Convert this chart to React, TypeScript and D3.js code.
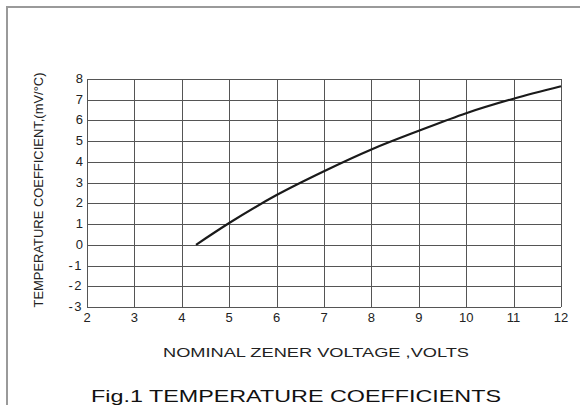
import React, { useEffect, useRef } from "react";
import * as d3 from "d3";

// curve: nominal zener voltage (V) -> temp coefficient (mV/°C)
const voltages = [4.3, 5, 6, 7, 8, 9, 10, 11, 12];
const coefficients = [0, 1.05, 2.4, 3.55, 4.6, 5.5, 6.35, 7.05, 7.65];
const xTicks = [2, 3, 4, 5, 6, 7, 8, 9, 10, 11, 12];
const yTicks = [-3, -2, -1, 0, 1, 2, 3, 4, 5, 6, 7, 8];

const W = 580;
const H = 405;
const FONT = "'Liberation Sans', Arial, sans-serif";

const App: React.FC = () => {
  const svgRef = useRef<SVGSVGElement>(null);

  useEffect(() => {
    const svg = d3.select(svgRef.current);
    svg.selectAll("*").remove();

    const x = d3.scaleLinear().domain([2, 12]).range([87, 561]);
    const y = d3.scaleLinear().domain([-3, 8]).range([307, 79]);

    // outer frame
    svg
      .append("path")
      .attr("d", `M7,${H + 5} V7 H${W + 5}`)
      .attr("fill", "none")
      .attr("stroke", "#9a9a9a")
      .attr("stroke-width", 2);

    const grid = svg.append("g").attr("stroke", "#555").attr("stroke-width", 1);
    grid
      .selectAll("line.v")
      .data(xTicks)
      .join("line")
      .attr("class", "v")
      .attr("x1", (d) => Math.round(x(d)) + 0.5)
      .attr("x2", (d) => Math.round(x(d)) + 0.5)
      .attr("y1", y(8))
      .attr("y2", y(-3));
    grid
      .selectAll("line.h")
      .data(yTicks)
      .join("line")
      .attr("class", "h")
      .attr("y1", (d) => Math.round(y(d)) + 0.5)
      .attr("y2", (d) => Math.round(y(d)) + 0.5)
      .attr("x1", x(2))
      .attr("x2", x(12));

    svg
      .append("g")
      .selectAll("text")
      .data(yTicks)
      .join("text")
      .attr("x", 83)
      .attr("y", (d) => y(d) + 4)
      .attr("text-anchor", "end")
      .attr("font-family", FONT)
      .attr("font-size", 13)
      .attr("fill", "#222")
      .attr("letter-spacing", (d) => (d < 0 ? 1.5 : 0))
      .text((d) => String(d));

    svg
      .append("g")
      .selectAll("text")
      .data(xTicks)
      .join("text")
      .attr("x", (d) => x(d))
      .attr("y", 322)
      .attr("text-anchor", "middle")
      .attr("font-family", FONT)
      .attr("font-size", 13)
      .attr("fill", "#222")
      .text((d) => String(d));

    const line = d3
      .line<number>()
      .x((_, i) => x(voltages[i]))
      .y((d) => y(d))
      .curve(d3.curveMonotoneX);
    svg
      .append("path")
      .datum(coefficients)
      .attr("d", line)
      .attr("fill", "none")
      .attr("stroke", "#1a1a1a")
      .attr("stroke-width", 2.2);

    svg
      .append("text")
      .attr("transform", "translate(43,190) rotate(-90)")
      .attr("text-anchor", "middle")
      .attr("font-family", FONT)
      .attr("font-size", 13)
      .attr("fill", "#222")
      .attr("textLength", 235)
      .attr("lengthAdjust", "spacingAndGlyphs")
      .text("TEMPERATURE COEFFICIENT,(mV/°C)");

    svg
      .append("text")
      .attr("x", 316)
      .attr("y", 357)
      .attr("text-anchor", "middle")
      .attr("font-family", FONT)
      .attr("font-size", 12)
      .attr("fill", "#222")
      .attr("textLength", 306)
      .attr("lengthAdjust", "spacingAndGlyphs")
      .text("NOMINAL ZENER VOLTAGE ,VOLTS");

    svg
      .append("text")
      .attr("x", 296)
      .attr("y", 402)
      .attr("text-anchor", "middle")
      .attr("font-family", FONT)
      .attr("font-size", 17)
      .attr("fill", "#111")
      .attr("textLength", 410)
      .attr("lengthAdjust", "spacingAndGlyphs")
      .text("Fig.1 TEMPERATURE COEFFICIENTS");
  }, []);

  return (
    <div style={{ position: "absolute", left: 0, top: 0, width: W, height: H, background: "#fff" }}>
      <svg ref={svgRef} width={W} height={H} />
    </div>
  );
};

export default App;
